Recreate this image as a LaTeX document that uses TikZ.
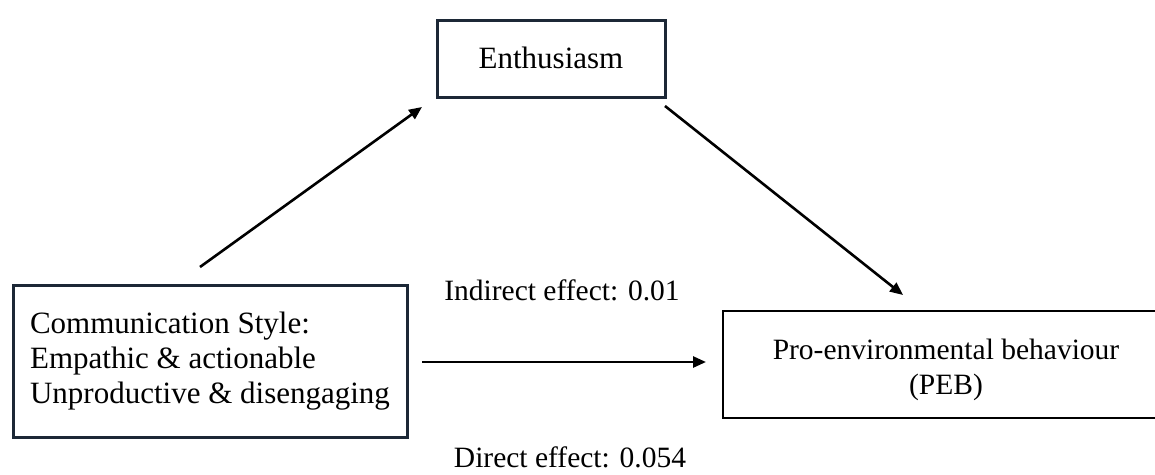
\documentclass[tikz,border=0pt]{standalone}
\usepackage{fontspec}
\setmainfont{Liberation Serif}
\usetikzlibrary{arrows.meta}
\definecolor{boxline}{RGB}{28,40,54}
\tikzset{
  txt/.style={font=\fontsize{31}{35}\selectfont, text=black, inner sep=0pt},
  lbl/.style={font=\fontsize{29.5}{35}\selectfont, text=black, inner sep=0pt},
  vbox/.style={draw=boxline, line width=3pt, inner sep=0pt, txt, align=left},
  conn/.style={line width=2.6pt, -{Triangle[length=13pt,width=11pt]}, black}
}
\begin{document}
\begin{tikzpicture}[x=1pt,y=-1pt]
\useasboundingbox (0,0) rectangle (1155,474);
\fill[white] (0,0) rectangle (1155,474);
\node[vbox, minimum width=228pt, minimum height=77pt, align=center, text depth=2pt] (enth) at (551,58.5) {Enthusiasm};
\node[vbox, minimum width=394pt, minimum height=152pt] (comm) at (210,361) {Communication Style:\\Empathic \& actionable\\Unproductive \& disengaging};
\node[draw=black, line width=2.4pt, inner sep=0pt, minimum width=452pt, minimum height=107pt] (peb) at (949,364.5) {};
\node[lbl, align=center, anchor=base] (pebtext) at (946,394) {Pro-environmental behaviour\\(PEB)};
\node[lbl, anchor=base] (indirect) at (562,300) {Indirect effect: 0.01};
\node[lbl, anchor=base] (direct) at (570,467) {Direct effect: 0.054};
\coordinate (a1s) at (200,267);
\coordinate (a1e) at (422,107);
\coordinate (a2s) at (665,106);
\coordinate (a2e) at (903,295);
\coordinate (a3s) at (422,362);
\coordinate (a3e) at (706,362);
\draw[conn] (a1s) -- (a1e);
\draw[conn] (a2s) -- (a2e);
\draw[conn] (a3s) -- (a3e);
\end{tikzpicture}
\end{document}
